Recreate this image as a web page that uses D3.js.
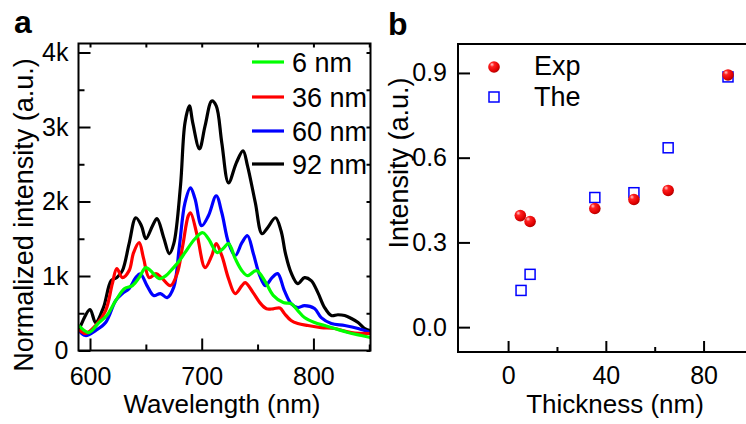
<!DOCTYPE html>
<html>
<head>
<meta charset="utf-8">
<script src="https://cdn.jsdelivr.net/npm/d3@7"></script>
<style>
  html, body { margin: 0; padding: 0; background: #fff; }
  svg { display: block; }
</style>
</head>
<body>
<svg id="chart" width="746" height="424"></svg>
<script>
// ---------------- DATA ----------------
// Panel a: PL spectra (wavelength nm, normalized intensity counts)
const wave6  = [590,599,608,615,623,631,638,644,650,656,662,668,674,680,685,694,701,706,714,719,724,730,736,741,749,757,764,773,780,786,792,801,810,819,831,843,851];
const int6   = [335,241,375,469,670,831,871,978,1112,1045,965,1005,1099,1206,1313,1500,1581,1500,1313,1367,1434,1233,1072,1005,1072,920,740,643,630,536,442,375,335,295,241,201,174];

const wave36 = [590,596,605,614,620,624,629,635,639,644,648,653,659,664,672,678,683,688,690,696,703,709,713,718,724,730,736,739,746,752,758,764,770,774,780,786,795,807,819,834,851];
const int36  = [281,228,335,536,898,1099,978,1072,1313,1447,1233,978,1032,978,871,1032,1407,1809,1849,1541,1112,1273,1434,1273,965,764,871,911,777,643,560,560,570,496,402,362,335,308,295,241,228];

const wave60 = [590,596,605,614,623,629,635,641,645,651,657,663,669,675,680,685,690,694,700,706,713,718,724,730,736,741,746,752,757,763,768,774,780,786,792,801,807,816,828,840,851];
const int60  = [268,201,268,375,670,764,831,978,1030,871,737,764,710,850,1400,1983,2184,2037,1675,1809,2077,1849,1447,1273,1447,1541,1313,1005,871,978,1032,804,630,576,603,563,442,362,335,295,241];

const wave92 = [590,600,605,612,619,624,629,635,641,646,650,656,660,666,671,675,681,685,689,692,698,703,709,713,718,724,731,737,741,748,754,759,766,771,775,780,786,792,798,804,810,816,822,828,834,840,846,851];
const int92  = [270,550,375,576,938,978,1072,1434,1782,1675,1500,1675,1770,1514,1300,1434,2211,3055,3283,3055,2707,3015,3350,3283,2787,2251,2519,2680,2479,1983,1568,1648,1782,1608,1300,1045,898,978,938,777,576,469,480,469,429,375,295,268];

const seriesNames  = ["6 nm", "36 nm", "60 nm", "92 nm"];
const seriesColors = ["#00ff00", "#ff0000", "#0000ff", "#000000"];

const aXTicks = [600, 700, 800];
const aXMinor = [650, 750, 850];
const aYTicks = [0, 1000, 2000, 3000, 4000];
const aYLabels = ["0", "1k", "2k", "3k", "4k"];
const aYMinor = [500, 1500, 2500, 3500];

// Panel b: intensity vs thickness
const thickExp = [5, 9, 35.5, 51.5, 65.5, 90];
const valExp   = [0.395, 0.374, 0.42, 0.452, 0.484, 0.893];
const thickThe = [5.3, 9, 35.5, 51.5, 65.5, 90];
const valThe   = [0.13, 0.187, 0.459, 0.476, 0.635, 0.886];
const legendB  = ["Exp", "The"];

const bXTicks = [0, 40, 80];
const bXMinor = [20, 60];
const bYTicks = [0.0, 0.3, 0.6, 0.9];

// ---------------- DRAW ----------------
const FONT = "'Liberation Sans', Arial, Helvetica, sans-serif";
const svg = d3.select("#chart").style("font-family", FONT);

const defs = svg.append("defs");
const grad = defs.append("radialGradient").attr("id", "sphere")
  .attr("cx", "0.38").attr("cy", "0.35").attr("r", "0.65")
  .attr("fx", "0.32").attr("fy", "0.28");
grad.append("stop").attr("offset", "0").attr("stop-color", "#ffd0d0");
grad.append("stop").attr("offset", "0.3").attr("stop-color", "#ff2020");
grad.append("stop").attr("offset", "0.8").attr("stop-color", "#e00000");
grad.append("stop").attr("offset", "1").attr("stop-color", "#b00000");

// ---------- Panel a ----------
const aL = 78.5, aR = 370.5, aT = 43.5, aB = 350.5;
const xA = d3.scaleLinear().domain([589.7, 851.1]).range([aL, aR]);
const yA = d3.scaleLinear().domain([0, 4121]).range([aB, aT]);

defs.append("clipPath").attr("id", "clipA").append("rect")
  .attr("x", aL).attr("y", aT).attr("width", aR - aL).attr("height", aB - aT);

const gA = svg.append("g");

const allSeries = [
  {w: wave92, v: int92, c: seriesColors[3]},
  {w: wave60, v: int60, c: seriesColors[2]},
  {w: wave36, v: int36, c: seriesColors[1]},
  {w: wave6,  v: int6,  c: seriesColors[0]}
];
const line = d3.line().x(d => xA(d[0])).y(d => yA(d[1])).curve(d3.curveCatmullRom.alpha(0.5));
const plotA = gA.append("g").attr("clip-path", "url(#clipA)");
allSeries.forEach(s => {
  const pts = s.w.map((w, i) => [w, s.v[i]]);
  plotA.append("path").datum(pts).attr("d", line)
    .attr("fill", "none").attr("stroke", s.c).attr("stroke-width", 3.2)
    .attr("stroke-linejoin", "round");
});

function styleAxis(g, fs) {
  g.select(".domain").remove();
  g.selectAll(".tick line").attr("stroke", "#000").attr("stroke-width", 2);
  g.selectAll(".tick text").attr("fill", "#000").style("font-size", fs + "px").style("font-family", FONT);
}

// bottom a
const axA_b = gA.append("g").attr("transform", `translate(0,${aB})`)
  .call(d3.axisBottom(xA).tickValues(aXTicks).tickSize(-12).tickPadding(16.5).tickFormat(d3.format("d")));
styleAxis(axA_b, 25);
const axA_bm = gA.append("g").attr("transform", `translate(0,${aB})`)
  .call(d3.axisBottom(xA).tickValues(aXMinor).tickSize(-6).tickFormat(""));
styleAxis(axA_bm, 25);
// left a
const axA_l = gA.append("g").attr("transform", `translate(${aL},0)`)
  .call(d3.axisLeft(yA).tickValues(aYTicks).tickSize(-12).tickPadding(10)
    .tickFormat((d, i) => aYLabels[i]));
styleAxis(axA_l, 25);
const axA_lm = gA.append("g").attr("transform", `translate(${aL},0)`)
  .call(d3.axisLeft(yA).tickValues(aYMinor).tickSize(-6).tickFormat(""));
styleAxis(axA_lm, 25);
// top a (small inward ticks)
const axA_t = gA.append("g").attr("transform", `translate(0,${aT})`)
  .call(d3.axisTop(xA).tickValues(aXTicks.concat(aXMinor)).tickSize(-4).tickFormat(""));
styleAxis(axA_t, 25);
// right a
const axA_r = gA.append("g").attr("transform", `translate(${aR},0)`)
  .call(d3.axisRight(yA).tickValues(aYTicks.concat(aYMinor)).tickSize(-4).tickFormat(""));
styleAxis(axA_r, 25);
// frame a
gA.append("rect").attr("x", aL).attr("y", aT).attr("width", aR - aL).attr("height", aB - aT)
  .attr("fill", "none").attr("stroke", "#000").attr("stroke-width", 2);

// legend a
const legA = gA.append("g");
const legYs = [62, 97, 131, 164];
seriesNames.forEach((name, i) => {
  legA.append("line").attr("x1", 252).attr("x2", 284).attr("y1", legYs[i]).attr("y2", legYs[i])
    .attr("stroke", seriesColors[i]).attr("stroke-width", 3.2);
  legA.append("text").attr("x", 292).attr("y", legYs[i] + 10)
    .style("font-size", "27px").text(name);
});

// titles a
gA.append("text").attr("x", 222).attr("y", 413).attr("text-anchor", "middle")
  .style("font-size", "26px").text("Wavelength (nm)");
gA.append("text").attr("transform", "translate(33,215) rotate(-90)").attr("text-anchor", "middle")
  .style("font-size", "27px").text("Normalized intensity (a.u.)");
gA.append("text").attr("x", 14).attr("y", 33).style("font-size", "32px").style("font-weight", "bold").text("a");

// ---------- Panel b ----------
const bL = 458, bR = 750, bT = 44, bB = 352;
const xB = d3.scaleLinear().domain([-20.5, 99]).range([bL, bR]);
const yB = d3.scaleLinear().domain([-0.088, 1.0025]).range([bB, bT]);
const gB = svg.append("g");

const axB_b = gB.append("g").attr("transform", `translate(0,${bB})`)
  .call(d3.axisBottom(xB).tickValues(bXTicks).tickSize(-11).tickPadding(14.5).tickFormat(d3.format("d")));
styleAxis(axB_b, 25);
const axB_bm = gB.append("g").attr("transform", `translate(0,${bB})`)
  .call(d3.axisBottom(xB).tickValues(bXMinor).tickSize(-5).tickFormat(""));
styleAxis(axB_bm, 25);
const axB_l = gB.append("g").attr("transform", `translate(${bL},0)`)
  .call(d3.axisLeft(yB).tickValues(bYTicks).tickSize(-12).tickPadding(11).tickFormat(d3.format(".1f")));
styleAxis(axB_l, 25);

gB.append("rect").attr("x", bL).attr("y", bT).attr("width", bR - bL).attr("height", bB - bT)
  .attr("fill", "none").attr("stroke", "#000").attr("stroke-width", 2);

// The (open squares)
const sq = 10;
gB.selectAll("rect.the").data(thickThe.map((t, i) => [t, valThe[i]])).enter().append("rect")
  .attr("class", "the")
  .attr("x", d => xB(d[0]) - sq / 2).attr("y", d => yB(d[1]) - sq / 2)
  .attr("width", sq).attr("height", sq)
  .attr("fill", "none").attr("stroke", "#0000ff").attr("stroke-width", 1.5);
// Exp (spheres)
gB.selectAll("circle.exp").data(thickExp.map((t, i) => [t, valExp[i]])).enter().append("circle")
  .attr("class", "exp")
  .attr("cx", d => xB(d[0])).attr("cy", d => yB(d[1])).attr("r", 5.8)
  .attr("fill", "url(#sphere)");

// legend b
gB.append("circle").attr("cx", 494).attr("cy", 67).attr("r", 5.8).attr("fill", "url(#sphere)");
gB.append("rect").attr("x", 494 - sq / 2).attr("y", 97 - sq / 2).attr("width", sq).attr("height", sq)
  .attr("fill", "none").attr("stroke", "#0000ff").attr("stroke-width", 1.5);
gB.append("text").attr("x", 534).attr("y", 75).style("font-size", "27px").text(legendB[0]);
gB.append("text").attr("x", 534).attr("y", 106).style("font-size", "27px").text(legendB[1]);

// titles b
gB.append("text").attr("x", 615).attr("y", 413).attr("text-anchor", "middle")
  .style("font-size", "26px").text("Thickness (nm)");
gB.append("text").attr("transform", "translate(408,163) rotate(-90)").attr("text-anchor", "middle")
  .style("font-size", "27px").text("Intensity (a.u.)");
gB.append("text").attr("x", 388).attr("y", 35).style("font-size", "32px").style("font-weight", "bold").text("b");
</script>
</body>
</html>
